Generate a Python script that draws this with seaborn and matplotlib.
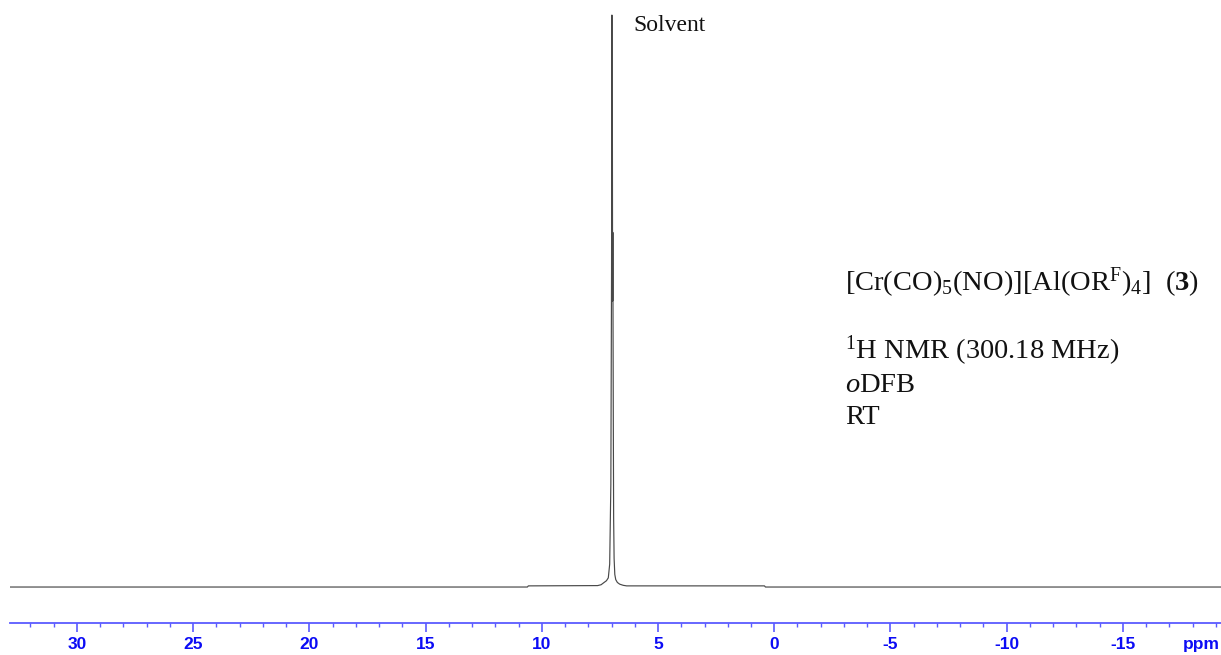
import matplotlib
matplotlib.use("Agg")
import matplotlib.pyplot as plt
import seaborn as sns
import pandas as pd
from matplotlib.ticker import FixedLocator

# ---- data ----
ppm = [32.9, 10.62, 10.58, 7.60, 7.45, 7.32, 7.22, 7.14, 7.08, 7.03,
       7.00, 6.985, 6.975, 6.965, 6.955, 6.945, 6.935, 6.925, 6.91,
       6.89, 6.86, 6.82, 6.75, 6.65, 6.50, 6.35, 0.42, 0.38, -19.3]
intensity = [0.0, 0.0, 0.2, 0.25, 0.4, 0.8, 1.1, 1.6, 4.0, 18.0,
             55.0, 100.0, 70.0, 85.0, 50.0, 62.0, 45.0, 30.0, 12.0,
             5.0, 2.2, 1.3, 0.8, 0.5, 0.3, 0.2, 0.2, 0.0, 0.0]
major_ticks = [30, 25, 20, 15, 10, 5, 0, -5, -10, -15]
minor_ticks = list(range(32, -20, -1))
axis_unit = "ppm"
peak_label = "Solvent"
title_line = r"[Cr(CO)$_5$(NO)][Al(OR$^{\rm F}$)$_4$]  ($\mathbf{3}$)"
info_lines = [r"$^1$H NMR (300.18 MHz)", r"$\mathit{o}$DFB", "RT"]

sns.set_theme(style="white")
plt.rcParams["font.family"] = ["Liberation Serif", "DejaVu Serif"]
plt.rcParams["mathtext.fontset"] = "custom"
plt.rcParams["mathtext.rm"] = "Liberation Serif"
plt.rcParams["mathtext.it"] = "Liberation Serif:italic"
plt.rcParams["mathtext.bf"] = "Liberation Serif:bold"
plt.rcParams["axes.unicode_minus"] = False

W, H = 1221, 655
fig = plt.figure(figsize=(W / 100, H / 100), dpi=100)
ax = fig.add_axes([10 / W, (H - 623) / H, 1211 / W, 623 / H])

df = pd.DataFrame({"ppm": ppm, "intensity": intensity})
sns.lineplot(data=df, x="ppm", y="intensity", ax=ax, sort=False,
             estimator=None, color="#484848", linewidth=0.85)

ax.set_xlim(32.88, -19.22)
ax.set_ylim(-6.29, 102.63)

axis_blue = "#5a5aff"
label_blue = "#0c0cf5"
for s in ["left", "right", "top"]:
    ax.spines[s].set_visible(False)
ax.spines["bottom"].set_color(axis_blue)
ax.spines["bottom"].set_linewidth(1.3)

ax.xaxis.set_major_locator(FixedLocator(major_ticks))
ax.xaxis.set_minor_locator(FixedLocator(minor_ticks))
ax.set_xticklabels([str(t) for t in major_ticks])
ax.tick_params(axis="x", which="major", direction="out", length=6.5,
               width=1.2, color=axis_blue, labelcolor=label_blue,
               labelsize=12.5, pad=3.5, bottom=True)
ax.tick_params(axis="x", which="minor", direction="out", length=2.6,
               width=1.0, color=axis_blue, bottom=True)
for lab in ax.get_xticklabels():
    lab.set_fontfamily(["Liberation Sans", "DejaVu Sans"])
    lab.set_fontweight("bold")
ax.set_yticks([])
ax.set_xlabel("")
ax.set_ylabel("")

# "ppm" unit label in the tick-label row
fig.canvas.draw()
bb = ax.get_xticklabels()[0].get_window_extent()
fig.text(1201 / W, bb.y1 / H, axis_unit, ha="center", va="top",
         color=label_blue, fontsize=12.5, fontweight="bold",
         family=["Liberation Sans", "DejaVu Sans"])

fig.text(633 / W, 1 - 31 / H, peak_label, fontsize=17, ha="left",
         va="baseline", color="#111111")
fig.text(845 / W, 1 - 291 / H, title_line, fontsize=20.5, ha="left",
         va="baseline", color="#111111")
for i, line in enumerate(info_lines):
    fig.text(845 / W, 1 - (359 + 32.5 * i) / H, line, fontsize=20.5,
             ha="left", va="baseline", color="#111111")

fig.savefig("out.png", dpi=100)
